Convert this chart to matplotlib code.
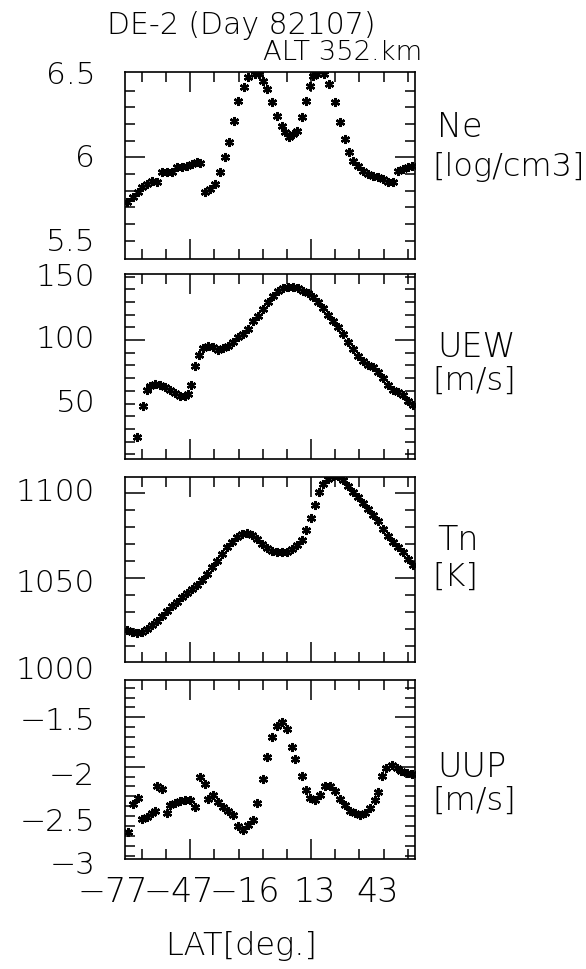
import numpy as np
import matplotlib
matplotlib.use("Agg")
import matplotlib.pyplot as plt
from matplotlib.transforms import blended_transform_factory

# ---------------- data ----------------
ne_lat = [-76.3, -73.5, -71.5, -70.1, -68.0, -65.9, -63.9, -61.8, -59.8, -57.7,
          -55.6, -53.5, -51.5, -49.4, -47.3, -46.0,
          -43.9, -41.8, -39.7, -37.7, -35.6, -33.8, -31.8, -30.4, -27.8, -26.0,
          -23.2, -21.4, -19.8, -18.4, -16.3, -14.2, -12.2, -10.8, -9.0, -7.3,
          -5.9, -3.9, -2.1, -0.5, 0.6, 2.3, 5.3, 7.5, 9.9, 11.9,
          14.0, 15.8, 17.4, 19.5, 21.6, 23.7, 25.7, 27.8, 29.9, 31.9,
          34.0, 36.1, 38.1, 40.2, 41.6]
ne_val = [5.73, 5.76, 5.79, 5.82, 5.84, 5.86, 5.85, 5.91, 5.91, 5.91,
          5.94, 5.94, 5.95, 5.96, 5.97, 5.966,
          5.79, 5.81, 5.84, 5.91, 6.00, 6.09, 6.22, 6.34, 6.42, 6.48,
          6.50, 6.50, 6.46, 6.41, 6.33, 6.25, 6.19, 6.15, 6.12, 6.14,
          6.16, 6.24, 6.34, 6.43, 6.49, 6.50, 6.50, 6.44, 6.33, 6.21,
          6.11, 6.03, 5.98, 5.95, 5.92, 5.90, 5.89, 5.88, 5.87, 5.855,
          5.85, 5.92, 5.93, 5.94, 5.95]

uew_lat = [-72.2, -69.7, -68.0, -66.6, -64.6, -62.5, -60.4, -58.4, -56.3, -54.2,
           -52.2, -50.8, -49.7, -48.0, -46.2, -44.6, -42.5, -40.4, -38.4, -36.3,
           -34.2, -32.2, -30.1, -28.0, -26.0, -23.9, -21.8, -19.8, -17.7, -15.6,
           -13.5, -11.5, -9.4, -7.3, -5.3, -3.2, -1.1, 0.9, 3.0, 5.1,
           7.1, 9.2, 11.3, 13.3, 15.4, 17.5, 19.5, 21.6, 23.7, 25.7,
           27.8, 29.9, 31.9, 34.0, 36.1, 38.1, 40.2, 42.0]
uew_val = [23.4, 47.8, 60.6, 64.0, 65.4, 64.6, 62.7, 60.6, 58.3, 56.2,
           55.6, 57.5, 64.6, 79.8, 88.5, 93.4, 95.0, 94.2, 92.4, 93.4,
           95.0, 98.2, 102.1, 104.7, 108.7, 115.2, 119.1, 124.4, 129.7, 134.9,
           138.8, 140.7, 141.5, 141.5, 140.7, 138.8, 136.8, 133.6, 129.7, 125.0,
           119.7, 115.2, 110.0, 104.7, 98.7, 92.9, 87.6, 83.7, 80.3, 78.5,
           74.6, 69.8, 64.6, 60.9, 58.8, 56.7, 52.2, 48.8]

tn_lat = [-76.3, -74.2, -72.2, -70.1, -68.0, -65.9, -63.9, -61.8, -59.8, -57.7,
          -55.6, -53.5, -51.5, -49.4, -47.3, -45.3, -43.2, -41.1, -39.1, -37.0,
          -34.9, -32.9, -30.8, -28.7, -26.7, -24.6, -22.5, -20.4, -18.4, -16.3,
          -14.2, -12.2, -10.1, -8.0, -5.9, -3.9, -2.1, -0.2, 1.6, 3.4,
          5.1, 7.1, 9.2, 11.3, 13.3, 15.4, 17.5, 19.5, 21.6, 23.7,
          25.7, 27.8, 29.9, 31.9, 34.0, 36.1, 38.1, 40.2, 42.0]
tn_val = [1019.5, 1018.3, 1017.5, 1017.9, 1019.9, 1022.4, 1024.8, 1027.8, 1030.7, 1033.3,
          1036.0, 1038.6, 1041.1, 1043.5, 1045.9, 1049.0, 1052.4, 1056.3, 1060.2, 1064.2,
          1068.1, 1071.4, 1074.0, 1076.0, 1076.6, 1075.4, 1073.0, 1070.1, 1067.7, 1066.1,
          1065.2, 1065.2, 1065.5, 1067.1, 1069.5, 1072.6, 1078.5, 1085.2, 1093.1, 1100.6,
          1105.5, 1108.4, 1110.0, 1110.0, 1108.0, 1104.5, 1100.9, 1097.6, 1094.3, 1090.7,
          1087.2, 1083.5, 1078.9, 1074.6, 1071.1, 1068.1, 1065.2, 1061.2, 1057.7]

uup_lat = [-75.6, -73.5, -71.5, -70.1, -68.0, -65.9, -64.6, -63.9, -61.8, -59.8,
           -58.4, -56.3, -54.2, -52.2, -50.1, -48.0, -46.0, -43.9, -42.5, -40.4,
           -38.4, -36.3, -34.2, -32.2, -30.1, -28.0, -26.0, -23.9, -22.5, -20.0,
           -18.4, -16.3, -14.2, -12.2, -10.1, -8.0, -6.6, -3.9, -2.1, -0.5,
           1.6, 3.7, 5.8, 7.8, 9.9, 11.9, 14.0, 16.1, 18.1, 20.2,
           22.3, 24.3, 26.4, 27.8, 29.2, 31.2, 33.3, 35.4, 37.4, 39.5,
           41.6]
uup_val = [-2.66, -2.38, -2.32, -2.53, -2.51, -2.47, -2.45, -2.19, -2.23, -2.47,
           -2.39, -2.37, -2.35, -2.34, -2.34, -2.41, -2.10, -2.17, -2.33, -2.29,
           -2.36, -2.41, -2.45, -2.49, -2.60, -2.64, -2.59, -2.54, -2.37, -2.12,
           -1.90, -1.70, -1.59, -1.55, -1.62, -1.80, -1.92, -2.09, -2.24, -2.32,
           -2.34, -2.29, -2.19, -2.19, -2.25, -2.33, -2.39, -2.45, -2.47, -2.49,
           -2.47, -2.42, -2.34, -2.26, -2.09, -2.01, -1.98, -2.01, -2.04, -2.06,
           -2.07]

x_tick_labels = ["\u221277", "\u221247", "\u221216", "13", "43"]
x_label_pos = [-82.2, -54.9, -27.3, 1.6, 27.5]

panels = [
    dict(lat=ne_lat, val=ne_val, ylim=(5.391, 6.511),
         major=[6.0], minor=np.round(np.arange(5.5, 6.45, 0.1), 2),
         labels=["6.5", "6", "5.5"], label_y=[0.989, 0.545, 0.091],
         name="Ne", unit="[log/cm3]", name_y=0.706, unit_y=0.497),
    dict(lat=uew_lat, val=uew_val, ylim=(6.3, 152.0),
         major=[100], minor=np.arange(10, 151, 10),
         labels=["150", "100", "50"], label_y=[0.984, 0.649, 0.308],
         name="UEW", unit="[m/s]", name_y=0.61, unit_y=0.43),
    dict(lat=tn_lat, val=tn_val, ylim=(1000.4, 1109.6),
         major=[1050, 1100], minor=np.arange(1010, 1101, 10),
         labels=["1100", "1050", "1000"], label_y=[0.919, 0.432, -0.038],
         name="Tn", unit="[K]", name_y=0.66, unit_y=0.465),
    dict(lat=uup_lat, val=uup_val, ylim=(-2.934, -1.122),
         major=[-1.5, -2.0], minor=np.round(np.arange(-2.9, -1.15, 0.1), 2),
         labels=["\u22121.5", "\u22122", "\u22122.5", "\u22123"],
         label_y=[0.773, 0.466, 0.207, -0.028],
         name="UUP", unit="[m/s]", name_y=0.515, unit_y=0.33),
]

# thin-stroke text, closest to the vector font of the reference
FONT = dict(family="DejaVu Sans", fontweight=200)

# ---------------- layout ----------------
W, H = 586, 970
fig = plt.figure(figsize=(W / 100, H / 100), dpi=100)
fig.patch.set_facecolor("white")

left, width = 125 / W, 290 / W
boxes = [(73, 260), (275, 460), (478, 663), (681, 860)]

x_major = [-50, 0]
x_minor = [-70, -60, -40, -30, -20, -10, 10, 20, 30, 40]

for i, (p, (top, bot)) in enumerate(zip(panels, boxes)):
    ax = fig.add_axes([left, (H - bot) / H, width, (bot - top) / H])
    ax.plot(p["lat"], p["val"], linestyle="none", marker=(6, 2, 0),
            markersize=6.5, markeredgewidth=1.7, color="black")
    ax.set_xlim(-77, 43)
    ax.set_ylim(*p["ylim"])
    ax.set_xticks(x_major)
    ax.set_xticks(x_minor, minor=True)
    ax.set_yticks(p["major"])
    ax.set_yticks([v for v in p["minor"] if v not in p["major"]], minor=True)
    ax.tick_params(which="both", direction="in", top=True, right=True,
                   bottom=True, left=True, labelbottom=False, labelleft=False,
                   width=1.1, color="black")
    ax.tick_params(which="major", length=14.4)
    ax.tick_params(which="minor", length=7.2)
    for s in ax.spines.values():
        s.set_linewidth(1.2)

    for lab, yy in zip(p["labels"], p["label_y"]):
        ax.text(-0.103, yy, lab, transform=ax.transAxes, ha="right", va="center",
                fontsize=22.5, **FONT)
    ax.text(1.076, p["name_y"], p["name"], transform=ax.transAxes, ha="left",
            va="center", fontsize=24, **FONT)
    ax.text(1.059, p["unit_y"], p["unit"], transform=ax.transAxes, ha="left",
            va="center", fontsize=23, **FONT)

    if i == len(panels) - 1:
        tr = blended_transform_factory(ax.transData, ax.transAxes)
        for lab, xx in zip(x_tick_labels, x_label_pos):
            ax.text(xx, -0.182, lab, transform=tr, ha="center", va="center",
                    fontsize=24, **FONT)

fig.text(241.5 / W, 1 - 25 / H, "DE-2 (Day 82107)", ha="center", va="center",
         fontsize=21.5, **FONT)
fig.text(343 / W, 1 - 53 / H, "ALT 352.km", ha="center", va="center",
         fontsize=19.7, **FONT)
fig.text(241 / W, 1 - 946 / H, "LAT[deg.]", ha="center", va="center",
         fontsize=23, **FONT)

fig.savefig("out.png", dpi=100)
